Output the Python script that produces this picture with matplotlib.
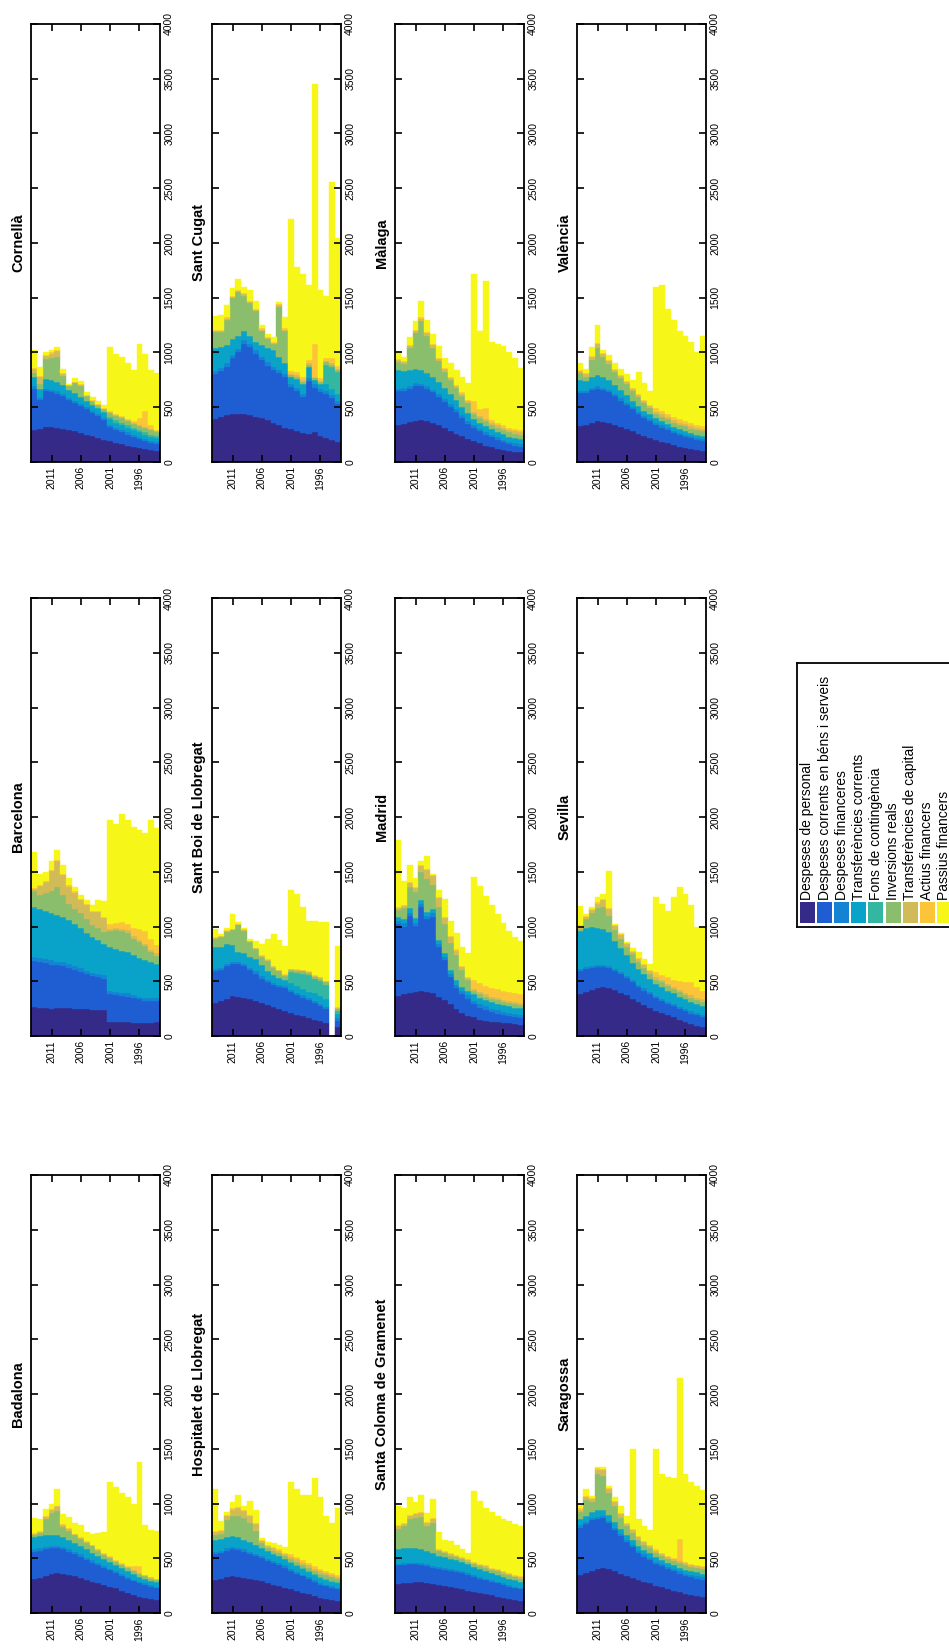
import matplotlib.pyplot as plt
import numpy as np

plt.rcParams['font.family'] = ['Liberation Sans', 'DejaVu Sans']

# years run right-to-left in the picture, so keep them newest first
years = [2014, 2013, 2012, 2011, 2010, 2009, 2008, 2007, 2006, 2005, 2004,
         2003, 2002, 2001, 2000, 1999, 1998, 1997, 1996, 1995, 1994, 1993]
year_ticks = [2011, 2006, 2001, 1996]
value_ticks = [0, 500, 1000, 1500, 2000, 2500, 3000, 3500, 4000]

categories = ['Despeses de personal', 'Despeses corrents en béns i serveis',
              'Despeses financeres', 'Transferències corrents',
              'Fons de contingència', 'Inversions reals',
              'Transferències de capital', 'Actius financers', 'Passius financers']
colors = ['#352A87', '#1E5DD2', '#1483D4', '#09A3C9', '#33B7A0',
          '#8ABE6C', '#D1BA58', '#FCC539', '#F6F619']

# one block per city: rows follow `categories`, columns follow `years`
badalona = [
    [310, 320, 340, 355, 365, 360, 350, 335, 320, 300, 285, 270, 255, 240, 225, 205, 185, 165, 150, 140, 130, 120],
    [250, 245, 240, 235, 225, 220, 210, 200, 195, 185, 175, 165, 160, 150, 140, 135, 130, 125, 120, 115, 110, 105],
    [25, 25, 25, 25, 25, 20, 20, 20, 20, 20, 20, 20, 15, 15, 15, 15, 15, 15, 15, 15, 15, 15],
    [110, 110, 105, 100, 100, 95, 90, 85, 80, 75, 70, 65, 60, 60, 55, 55, 50, 50, 45, 45, 40, 40],
    [0, 0, 0, 0, 0, 0, 0, 0, 0, 0, 0, 0, 0, 0, 0, 0, 0, 0, 0, 0, 0, 0],
    [20, 30, 150, 200, 220, 90, 80, 70, 60, 60, 60, 50, 40, 40, 30, 30, 30, 25, 25, 20, 20, 20],
    [10, 10, 20, 30, 40, 20, 20, 10, 10, 10, 10, 10, 10, 10, 10, 10, 10, 10, 10, 10, 10, 10],
    [5, 5, 5, 5, 5, 5, 5, 5, 5, 5, 5, 5, 5, 5, 5, 5, 5, 40, 60, 5, 5, 5],
    [140, 115, 65, 50, 150, 90, 105, 95, 110, 85, 95, 145, 195, 680, 670, 645, 635, 565, 950, 450, 430, 435],
]

barcelona = [
    [265, 260, 255, 250, 255, 260, 255, 250, 250, 245, 240, 240, 240, 130, 130, 125, 125, 120, 120, 115, 120, 130],
    [420, 415, 410, 400, 390, 380, 365, 350, 335, 320, 305, 295, 285, 250, 245, 240, 235, 225, 215, 205, 200, 190],
    [40, 40, 40, 40, 35, 35, 35, 35, 35, 30, 30, 30, 30, 30, 30, 30, 30, 30, 25, 25, 25, 25],
    [450, 445, 440, 435, 425, 415, 400, 385, 370, 350, 330, 310, 285, 400, 390, 385, 375, 365, 355, 345, 330, 310],
    [0, 0, 0, 0, 0, 0, 0, 0, 0, 0, 0, 0, 0, 0, 0, 0, 0, 0, 0, 0, 0, 0],
    [150, 130, 160, 200, 260, 200, 150, 140, 130, 120, 110, 110, 110, 150, 170, 180, 180, 150, 140, 130, 90, 80],
    [20, 80, 100, 180, 230, 180, 160, 150, 120, 130, 120, 150, 130, 20, 20, 20, 20, 20, 20, 20, 20, 20],
    [10, 10, 10, 10, 10, 10, 10, 10, 10, 10, 10, 10, 10, 40, 50, 60, 60, 80, 100, 120, 100, 80],
    [325, 100, 85, 85, 95, 80, 65, 40, 40, 35, 55, 95, 140, 950, 905, 990, 945, 920, 905, 890, 1085, 1065],
]

cornella = [
    [290, 300, 320, 320, 315, 305, 295, 280, 265, 250, 235, 220, 205, 190, 175, 165, 150, 140, 130, 120, 110, 100],
    [380, 265, 330, 320, 310, 300, 270, 260, 245, 230, 215, 200, 180, 130, 120, 110, 100, 90, 80, 70, 65, 60],
    [20, 20, 20, 20, 20, 20, 20, 20, 20, 20, 20, 20, 20, 20, 20, 20, 20, 20, 20, 20, 20, 20],
    [90, 80, 90, 90, 85, 80, 75, 70, 65, 60, 55, 55, 50, 50, 45, 45, 45, 40, 40, 40, 35, 35],
    [0, 0, 0, 0, 0, 0, 0, 0, 0, 0, 0, 0, 0, 20, 20, 20, 20, 20, 20, 20, 20, 20],
    [30, 50, 180, 200, 230, 80, 30, 90, 100, 40, 30, 25, 25, 40, 40, 40, 40, 40, 40, 40, 40, 40],
    [40, 60, 30, 40, 50, 20, 10, 10, 10, 5, 5, 5, 5, 10, 10, 10, 10, 10, 10, 10, 10, 10],
    [10, 10, 10, 10, 10, 10, 5, 5, 5, 5, 5, 5, 5, 10, 10, 10, 10, 10, 60, 150, 40, 10],
    [160, 85, 20, 20, 30, 30, 10, 30, 30, 30, 30, 30, 30, 580, 550, 540, 505, 470, 680, 520, 500, 515],
]

hospitalet = [
    [300, 310, 325, 335, 330, 320, 310, 300, 290, 275, 260, 250, 230, 215, 200, 185, 170, 155, 140, 130, 120, 110],
    [240, 240, 245, 250, 245, 240, 230, 220, 210, 200, 195, 190, 185, 170, 160, 150, 140, 130, 120, 115, 110, 105],
    [20, 20, 20, 20, 20, 20, 20, 20, 20, 20, 20, 20, 20, 15, 15, 15, 15, 15, 15, 15, 15, 15],
    [110, 110, 105, 100, 95, 90, 85, 80, 75, 70, 65, 65, 60, 55, 55, 50, 50, 45, 45, 45, 40, 40],
    [0, 0, 0, 0, 0, 0, 0, 0, 0, 0, 0, 0, 0, 10, 10, 10, 10, 10, 10, 10, 10, 10],
    [40, 40, 150, 180, 200, 200, 180, 130, 40, 30, 30, 25, 25, 30, 30, 30, 30, 30, 30, 30, 30, 30],
    [30, 30, 40, 60, 70, 60, 60, 60, 20, 20, 20, 20, 20, 20, 20, 20, 20, 20, 20, 20, 20, 20],
    [10, 10, 10, 10, 10, 10, 10, 10, 10, 10, 10, 10, 10, 20, 20, 20, 20, 20, 20, 20, 20, 20],
    [380, 80, 30, 55, 105, 35, 125, 120, 20, 25, 35, 40, 50, 660, 620, 600, 620, 805, 660, 505, 455, 610],
]

sant_boi = [
    [305, 320, 340, 365, 360, 350, 335, 320, 300, 285, 265, 250, 230, 210, 195, 180, 165, 150, 135, 120, 0, 80],
    [290, 280, 300, 290, 295, 290, 270, 250, 225, 210, 200, 200, 210, 190, 180, 170, 160, 150, 140, 125, 0, 60],
    [20, 20, 20, 20, 20, 20, 20, 20, 20, 20, 20, 20, 20, 20, 20, 20, 20, 20, 20, 20, 0, 20],
    [195, 190, 180, 160, 95, 100, 100, 110, 100, 80, 70, 60, 50, 60, 60, 60, 60, 70, 70, 75, 0, 40],
    [0, 0, 0, 0, 0, 0, 0, 0, 0, 0, 0, 0, 0, 100, 120, 140, 150, 130, 140, 130, 0, 30],
    [75, 90, 110, 130, 240, 200, 130, 90, 80, 90, 70, 60, 40, 20, 20, 20, 20, 20, 20, 20, 0, 20],
    [10, 10, 10, 10, 10, 10, 10, 10, 10, 10, 10, 10, 10, 10, 10, 10, 10, 10, 10, 10, 0, 10],
    [5, 5, 5, 5, 5, 5, 5, 5, 5, 5, 5, 5, 5, 5, 5, 5, 5, 5, 5, 5, 0, 5],
    [80, 20, 25, 135, 20, 10, 15, 65, 100, 185, 290, 275, 255, 715, 690, 570, 460, 495, 500, 535, 0, 560],
]

sant_cugat = [
    [395, 410, 425, 440, 440, 440, 430, 415, 400, 380, 355, 335, 310, 300, 280, 265, 260, 270, 240, 220, 200, 180],
    [410, 420, 445, 510, 560, 640, 620, 575, 530, 500, 485, 475, 465, 385, 370, 330, 480, 410, 400, 400, 380, 350],
    [30, 30, 30, 30, 30, 30, 30, 30, 30, 30, 30, 30, 30, 30, 30, 30, 30, 30, 30, 30, 30, 30],
    [210, 190, 170, 140, 120, 90, 70, 80, 110, 130, 150, 120, 95, 60, 80, 90, 100, 40, 40, 60, 60, 60],
    [0, 0, 0, 0, 0, 0, 0, 0, 0, 0, 0, 0, 0, 0, 0, 0, 0, 0, 0, 180, 200, 200],
    [140, 140, 230, 380, 400, 320, 300, 280, 130, 80, 60, 460, 300, 20, 20, 20, 20, 20, 20, 20, 20, 20],
    [10, 10, 10, 10, 10, 10, 10, 10, 10, 10, 10, 10, 10, 10, 10, 10, 10, 10, 10, 10, 10, 10],
    [10, 10, 10, 10, 10, 10, 10, 10, 10, 10, 10, 10, 10, 30, 30, 30, 30, 300, 30, 30, 50, 30],
    [130, 130, 110, 65, 105, 60, 100, 70, 30, 30, 40, 20, 105, 1380, 960, 945, 685, 2370, 800, 570, 1610, 1170],
]

santa_coloma = [
    [265, 270, 275, 280, 280, 275, 265, 255, 245, 235, 225, 215, 200, 190, 180, 170, 160, 150, 140, 130, 120, 110],
    [170, 170, 170, 165, 160, 155, 150, 150, 150, 150, 150, 150, 150, 140, 135, 130, 125, 120, 115, 110, 105, 105],
    [15, 15, 15, 15, 15, 15, 15, 15, 15, 15, 15, 15, 15, 15, 15, 15, 15, 15, 15, 15, 15, 15],
    [135, 135, 135, 130, 125, 120, 115, 105, 100, 95, 90, 85, 80, 75, 70, 70, 65, 65, 60, 60, 60, 55],
    [0, 0, 0, 0, 0, 0, 0, 0, 0, 0, 0, 0, 0, 0, 0, 0, 0, 0, 0, 0, 0, 0],
    [185, 200, 260, 280, 300, 230, 280, 40, 35, 30, 30, 25, 25, 30, 30, 30, 30, 30, 30, 30, 30, 30],
    [20, 20, 30, 30, 30, 30, 30, 10, 10, 10, 10, 10, 10, 10, 10, 10, 10, 10, 10, 10, 10, 10],
    [10, 10, 10, 10, 10, 10, 10, 10, 10, 10, 10, 10, 10, 10, 10, 10, 10, 10, 10, 10, 10, 10],
    [175, 140, 165, 100, 155, 75, 175, 155, 105, 110, 90, 75, 60, 640, 575, 525, 510, 490, 480, 475, 460, 455],
]

madrid = [
    [365, 380, 395, 405, 410, 405, 390, 360, 330, 290, 250, 210, 180, 170, 150, 140, 130, 125, 120, 115, 110, 105],
    [655, 620, 700, 600, 765, 660, 700, 450, 360, 245, 190, 170, 160, 120, 110, 100, 90, 80, 70, 65, 60, 60],
    [30, 30, 30, 30, 30, 30, 30, 30, 30, 30, 30, 30, 30, 30, 30, 30, 30, 30, 30, 30, 30, 30],
    [40, 40, 40, 40, 40, 40, 40, 40, 40, 40, 40, 40, 40, 60, 60, 60, 60, 60, 60, 60, 60, 60],
    [0, 0, 0, 0, 0, 0, 0, 0, 0, 0, 0, 0, 0, 0, 0, 0, 0, 0, 0, 0, 0, 0],
    [60, 100, 200, 240, 250, 300, 220, 300, 260, 240, 230, 150, 100, 30, 30, 30, 30, 30, 30, 30, 30, 30],
    [20, 20, 30, 40, 60, 80, 80, 80, 60, 60, 40, 30, 20, 20, 20, 20, 20, 20, 20, 20, 20, 20],
    [10, 10, 10, 10, 10, 10, 10, 10, 10, 10, 10, 10, 10, 80, 80, 80, 80, 80, 80, 80, 80, 80],
    [610, 220, 155, 75, 35, 115, 10, 60, 160, 135, 150, 170, 220, 940, 890, 820, 760, 685, 620, 560, 510, 485],
]

malaga = [
    [335, 350, 365, 375, 380, 370, 355, 335, 310, 285, 260, 235, 210, 190, 170, 150, 135, 120, 110, 100, 95, 90],
    [310, 300, 300, 320, 310, 300, 280, 260, 240, 220, 200, 170, 140, 120, 110, 100, 90, 80, 70, 60, 55, 50],
    [25, 25, 25, 25, 25, 25, 25, 25, 25, 25, 25, 25, 25, 25, 25, 25, 25, 25, 25, 25, 25, 25],
    [170, 160, 150, 130, 125, 120, 115, 110, 100, 90, 80, 75, 70, 60, 55, 55, 50, 50, 50, 45, 45, 45],
    [0, 0, 0, 0, 0, 0, 0, 0, 0, 0, 0, 0, 0, 0, 0, 0, 0, 0, 0, 0, 0, 0],
    [70, 60, 200, 330, 450, 340, 270, 190, 150, 130, 110, 100, 90, 40, 40, 40, 40, 40, 40, 40, 40, 40],
    [20, 20, 20, 20, 20, 20, 20, 20, 20, 20, 20, 20, 20, 20, 20, 20, 20, 20, 20, 20, 20, 20],
    [10, 10, 10, 10, 10, 10, 10, 10, 10, 10, 10, 10, 10, 100, 60, 100, 20, 20, 20, 20, 20, 20],
    [60, 35, 70, 80, 150, 115, 95, 110, 95, 120, 135, 145, 155, 1165, 720, 1160, 720, 725, 725, 690, 650, 570],
]

saragossa = [
    [350, 365, 380, 400, 415, 400, 380, 360, 340, 320, 300, 285, 270, 250, 235, 220, 205, 190, 175, 165, 155, 145],
    [430, 450, 470, 460, 450, 420, 380, 340, 310, 280, 250, 230, 215, 200, 190, 180, 175, 170, 165, 160, 160, 160],
    [20, 20, 20, 20, 20, 20, 20, 20, 20, 20, 20, 20, 20, 20, 20, 20, 20, 20, 20, 20, 20, 20],
    [55, 55, 50, 60, 60, 55, 50, 50, 45, 45, 40, 40, 40, 40, 35, 35, 35, 35, 35, 35, 35, 35],
    [0, 0, 0, 0, 0, 0, 0, 0, 0, 0, 0, 0, 0, 0, 0, 0, 0, 0, 0, 0, 0, 0],
    [70, 140, 90, 330, 310, 200, 150, 100, 80, 70, 60, 50, 50, 40, 40, 40, 40, 40, 40, 40, 40, 40],
    [20, 30, 30, 40, 50, 40, 30, 30, 20, 20, 20, 20, 20, 20, 20, 20, 20, 20, 20, 20, 20, 20],
    [10, 10, 10, 10, 10, 10, 10, 10, 10, 10, 10, 10, 10, 10, 10, 10, 10, 200, 10, 10, 10, 10],
    [35, 60, 20, 10, 15, 15, 40, 65, 65, 735, 155, 135, 130, 920, 715, 720, 725, 1470, 800, 750, 720, 690],
]

sevilla = [
    [380, 400, 420, 440, 445, 440, 420, 395, 370, 340, 310, 285, 260, 230, 210, 190, 170, 150, 130, 110, 95, 80],
    [215, 210, 200, 190, 185, 180, 175, 170, 160, 150, 140, 130, 120, 115, 110, 105, 100, 95, 95, 95, 95, 95],
    [20, 20, 20, 20, 20, 20, 20, 20, 20, 20, 20, 20, 20, 20, 20, 20, 20, 20, 20, 20, 20, 20],
    [345, 360, 360, 340, 330, 310, 250, 220, 190, 160, 140, 130, 120, 110, 110, 100, 100, 95, 90, 85, 80, 80],
    [0, 0, 0, 0, 0, 0, 0, 0, 0, 0, 0, 0, 0, 0, 0, 0, 0, 0, 0, 0, 0, 0],
    [20, 80, 120, 180, 200, 150, 100, 80, 70, 80, 70, 60, 50, 40, 40, 40, 40, 40, 40, 40, 40, 40],
    [20, 20, 30, 40, 60, 60, 40, 40, 30, 20, 20, 20, 20, 20, 20, 20, 20, 20, 20, 20, 20, 20],
    [10, 10, 10, 10, 10, 10, 10, 10, 10, 10, 10, 10, 10, 50, 50, 60, 60, 80, 100, 120, 100, 80],
    [180, 15, 15, 45, 50, 340, 10, 10, 10, 20, 55, 45, 55, 680, 645, 610, 755, 860, 805, 710, 550, 585],
]

valencia = [
    [330, 340, 360, 370, 365, 355, 340, 320, 300, 280, 260, 240, 220, 200, 185, 170, 155, 140, 130, 120, 110, 100],
    [300, 290, 300, 300, 290, 280, 260, 240, 220, 200, 180, 160, 150, 140, 130, 120, 110, 105, 100, 95, 90, 90],
    [20, 20, 20, 20, 20, 20, 20, 20, 20, 20, 20, 20, 20, 20, 20, 20, 20, 20, 20, 20, 20, 20],
    [100, 90, 100, 100, 100, 90, 80, 75, 70, 60, 55, 50, 45, 40, 40, 40, 35, 35, 35, 30, 30, 30],
    [0, 0, 0, 0, 0, 0, 0, 0, 0, 0, 0, 0, 0, 0, 0, 0, 0, 0, 0, 0, 0, 0],
    [60, 40, 150, 250, 180, 150, 120, 110, 100, 90, 80, 70, 60, 40, 40, 40, 40, 40, 40, 40, 40, 40],
    [20, 20, 30, 40, 30, 30, 20, 20, 20, 20, 20, 20, 20, 20, 20, 20, 20, 20, 20, 20, 20, 20],
    [10, 10, 10, 10, 10, 10, 10, 10, 10, 10, 10, 10, 10, 30, 30, 30, 30, 30, 30, 30, 30, 30],
    [60, 40, 80, 160, 25, 45, 50, 55, 60, 70, 195, 150, 125, 1110, 1155, 960, 890, 810, 775, 745, 660, 820],
]

# the page is turned a quarter: each picture row is a column of the original grid
grid = [
    [("Cornellà", cornella), ("Sant Cugat", sant_cugat), ("Màlaga", malaga), ("València", valencia)],
    [("Barcelona", barcelona), ("Sant Boi de Llobregat", sant_boi), ("Madrid", madrid), ("Sevilla", sevilla)],
    [("Badalona", badalona), ("Hospitalet de Llobregat", hospitalet),
     ("Santa Coloma de Gramenet", santa_coloma), ("Saragossa", saragossa)],
]

W, H = 949, 1652
fig = plt.figure(figsize=(W / 100, H / 100), dpi=100)

col_left = [31, 212, 395, 577]
row_top = [24, 598, 1175]
box_w, box_h = 129, 438

for r, row in enumerate(grid):
    for c, (name, layers) in enumerate(row):
        ax = fig.add_axes([col_left[c] / W, 1 - (row_top[r] + box_h) / H, box_w / W, box_h / H])
        bottom = np.zeros(len(years))
        for vals, color in zip(layers, colors):
            ax.bar(years, vals, width=1.0, bottom=bottom, color=color,
                   edgecolor=color, linewidth=0.3)
            bottom += np.array(vals)

        ax.set_xlim(2014.5, 1992.5)
        ax.set_ylim(0, 4000)
        ax.set_xticks(year_ticks)
        ax.set_yticks(value_ticks)
        ax.tick_params(direction='in', length=5, width=1.2, top=True, bottom=True,
                       left=True, right=True, labelleft=False, labelright=True,
                       labelsize=7.5, pad=3, colors='black')
        ax.tick_params(axis='both', labelrotation=90)
        for lab in ax.get_yticklabels():
            lab.set_va('center')
        for s in ax.spines.values():
            s.set_linewidth(1.3)
            s.set_color('black')

        ax.yaxis.set_label_position('left')
        ax.set_ylabel(name, fontsize=10.5, fontweight='bold', labelpad=4)

# legend, drawn by hand since its entries are turned as well
lx0, ly0, lx1, ly1 = 797, 663, 965, 927
lax = fig.add_axes([lx0 / W, 1 - ly1 / H, (lx1 - lx0) / W, (ly1 - ly0) / H])
lax.set_xlim(0, lx1 - lx0)
lax.set_ylim(0, ly1 - ly0)
slot = np.arange(len(categories)) * 17.1 + 10.5
lax.bar(slot, 21, width=15, bottom=4, color=colors)
for x, lab in zip(slot, categories):
    lax.text(x, 27, lab, rotation=90, ha='center', va='bottom', fontsize=10)
lax.set_xticks([])
lax.set_yticks([])
for s in lax.spines.values():
    s.set_linewidth(1.3)

plt.savefig('out.png', dpi=100)
plt.close()
